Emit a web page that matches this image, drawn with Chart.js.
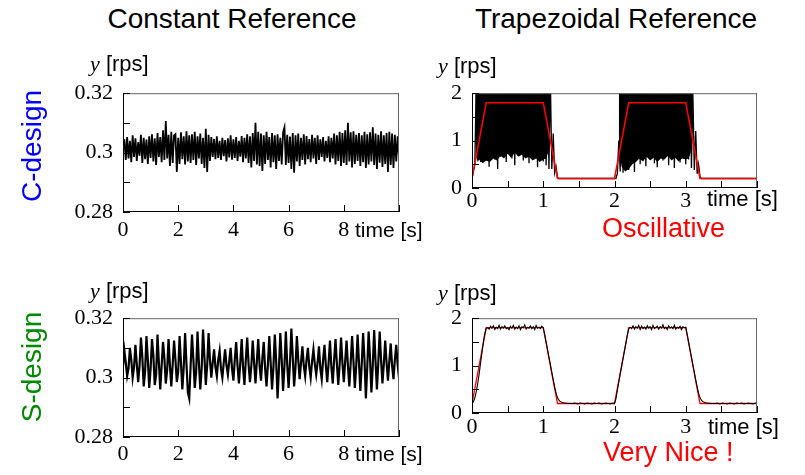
<!DOCTYPE html>
<html>
<head>
<meta charset="utf-8">
<script src="https://cdn.jsdelivr.net/npm/chart.js@4.4.1/dist/chart.umd.min.js"></script>
<style>
  body { margin: 0; background: #fff; }
  #page { position: relative; width: 805px; height: 475px; overflow: hidden; }
  canvas { position: absolute; }
  .t { position: absolute; white-space: nowrap; line-height: 1; font-family: 'Liberation Sans', Arial, sans-serif; color: #000; }
  .t i { font-family: 'Liberation Serif', serif; }
</style>
</head>
<body>
<div id="page">
  <canvas id="cA" width="380" height="175" style="left:40px;top:70px"></canvas>
  <canvas id="cB" width="385" height="145" style="left:420px;top:70px"></canvas>
  <canvas id="cC" width="380" height="175" style="left:40px;top:295px"></canvas>
  <canvas id="cD" width="385" height="145" style="left:420px;top:295px"></canvas>

  <div class="t" style="left:32px;top:5px;width:400px;text-align:center;font-size:28px">Constant Reference</div>
  <div class="t" style="left:416px;top:5px;width:400px;text-align:center;font-size:28px">Trapezoidal Reference</div>

  <div class="t" style="left:-48px;top:132px;width:160px;text-align:center;font-size:28px;color:#0000ff;transform:rotate(-90deg)">C-design</div>
  <div class="t" style="left:-48px;top:353px;width:160px;text-align:center;font-size:28px;color:#008a00;transform:rotate(-90deg)">S-design</div>

  <div class="t" style="left:90px;top:53px;font-size:22px"><i>y</i> [rps]</div>
  <div class="t" style="left:438px;top:55px;font-size:22px"><i>y</i> [rps]</div>
  <div class="t" style="left:90px;top:280px;font-size:22px"><i>y</i> [rps]</div>
  <div class="t" style="left:438px;top:282px;font-size:22px"><i>y</i> [rps]</div>

  <div class="t" style="left:355px;top:219px;font-size:21px">time [s]</div>
  <div class="t" style="left:707px;top:188px;font-size:22px">time [s]</div>
  <div class="t" style="left:355px;top:443px;font-size:21px">time [s]</div>
  <div class="t" style="left:708px;top:416px;font-size:22px">time [s]</div>

  <div class="t" style="left:602px;top:215px;font-size:27px;color:#ff0000">Oscillative</div>
  <div class="t" style="left:603px;top:439px;font-size:27px;color:#ff0000">Very Nice !</div>
</div>

<script>
'use strict';

// constant reference runs, sampled every 0.05 s
const constStep = 0.05;
const cDesignConst = [
  0.3010, 0.3045, 0.2975, 0.3052, 0.2980, 0.3040, 0.2968, 0.3058, 0.2985, 0.3048,
  0.2972, 0.3035, 0.2990, 0.3060, 0.2965, 0.3050, 0.2978, 0.3044, 0.2962, 0.3055,
  0.2982, 0.3062, 0.2970, 0.3048, 0.2958, 0.3066, 0.2985, 0.3052, 0.2968, 0.3075,
  0.2975, 0.3106, 0.2980, 0.3060, 0.2955, 0.3070, 0.2965, 0.3058, 0.3062, 0.2935,
  0.3050, 0.2962, 0.3068, 0.2978, 0.3055, 0.2960, 0.3072, 0.2970, 0.3058, 0.2965,
  0.3062, 0.2975, 0.3070, 0.2958, 0.3055, 0.2980, 0.3064, 0.2962, 0.3050, 0.2948,
  0.3080, 0.2935, 0.3060, 0.2972, 0.3052, 0.2985, 0.3046, 0.2978, 0.3055, 0.2982,
  0.3040, 0.2975, 0.3050, 0.2988, 0.3042, 0.2970, 0.3048, 0.2984, 0.3058, 0.2976,
  0.3045, 0.2982, 0.3052, 0.2972, 0.3040, 0.2986, 0.3056, 0.2968, 0.3050, 0.2980,
  0.3062, 0.2965, 0.3055, 0.2950, 0.3066, 0.2972, 0.3100, 0.2960, 0.3070, 0.2955,
  0.3064, 0.2938, 0.3058, 0.2962, 0.3070, 0.2975, 0.3052, 0.2950, 0.3066, 0.2968,
  0.3058, 0.2945, 0.3062, 0.2972, 0.3050, 0.2960, 0.3068, 0.3085, 0.2958, 0.3060,
  0.2965, 0.3054, 0.2945, 0.3066, 0.2932, 0.3058, 0.2970, 0.3064, 0.2955, 0.3050,
  0.2975, 0.3062, 0.2960, 0.3056, 0.2978, 0.3046, 0.2968, 0.3060, 0.2980, 0.3050,
  0.2962, 0.3058, 0.2975, 0.3045, 0.2985, 0.3052, 0.2970, 0.3040, 0.2982, 0.3055,
  0.2968, 0.3050, 0.2980, 0.3064, 0.2960, 0.3058, 0.2972, 0.3070, 0.2955, 0.3066,
  0.2965, 0.3075, 0.2958, 0.3100, 0.2970, 0.3068, 0.2950, 0.3072, 0.2962, 0.3060,
  0.2972, 0.3066, 0.2955, 0.3058, 0.2968, 0.3070, 0.2948, 0.3062, 0.2960, 0.3068,
  0.2970, 0.3085, 0.2958, 0.3064, 0.2945, 0.3060, 0.2966, 0.3072, 0.2952, 0.3058,
  0.2962, 0.3066, 0.2935, 0.3070, 0.2958, 0.3064, 0.2948, 0.3060, 0.2970, 0.3055,
  0.2985
];
const sDesignConst = [
  0.3040, 0.3090, 0.3050, 0.3005, 0.3030, 0.3100, 0.3060, 0.3000, 0.3035, 0.3110,
  0.3045, 0.2985, 0.3040, 0.3135, 0.3070, 0.2970, 0.3020, 0.3140, 0.3060, 0.2965,
  0.3030, 0.3130, 0.3075, 0.2975, 0.3010, 0.3145, 0.3050, 0.2960, 0.3040, 0.3120,
  0.3065, 0.2980, 0.3025, 0.3130, 0.3040, 0.2970, 0.3045, 0.3125, 0.3060, 0.2985,
  0.3020, 0.3140, 0.3050, 0.2960, 0.3035, 0.3150, 0.3045, 0.2950, 0.2930, 0.3040,
  0.3145, 0.3060, 0.2965, 0.3020, 0.3155, 0.3050, 0.2960, 0.3030, 0.3162, 0.3070,
  0.2975, 0.3040, 0.3150, 0.3060, 0.3000, 0.3050, 0.3095, 0.3035, 0.3005, 0.3060,
  0.3090, 0.3030, 0.3000, 0.3050, 0.3095, 0.3040, 0.3010, 0.3055, 0.3100, 0.3030,
  0.2990, 0.3060, 0.3120, 0.3040, 0.2980, 0.3050, 0.3130, 0.3035, 0.2975, 0.3060,
  0.3135, 0.3045, 0.2985, 0.3040, 0.3125, 0.3050, 0.2980, 0.3055, 0.3130, 0.3040,
  0.2990, 0.3065, 0.3120, 0.3030, 0.2970, 0.3045, 0.3140, 0.3050, 0.2960, 0.3035,
  0.3145, 0.3055, 0.2930, 0.3030, 0.3150, 0.3060, 0.2955, 0.3040, 0.3155, 0.3045,
  0.2965, 0.3050, 0.3165, 0.3070, 0.2970, 0.3035, 0.3140, 0.3060, 0.2995, 0.3050,
  0.3105, 0.3040, 0.3005, 0.3060, 0.3100, 0.3035, 0.3000, 0.3055, 0.3095, 0.3045,
  0.3010, 0.3050, 0.3105, 0.3030, 0.2995, 0.3060, 0.3110, 0.3040, 0.2985, 0.3050,
  0.3125, 0.3035, 0.2980, 0.3060, 0.3130, 0.3045, 0.2975, 0.3045, 0.3135, 0.3050,
  0.2985, 0.3055, 0.3125, 0.3040, 0.2970, 0.3050, 0.3140, 0.3055, 0.2965, 0.3040,
  0.3145, 0.3050, 0.2955, 0.3045, 0.3150, 0.3060, 0.2930, 0.3035, 0.3155, 0.3065,
  0.2950, 0.3040, 0.3160, 0.3055, 0.2960, 0.3050, 0.3155, 0.3060, 0.2980, 0.3045,
  0.3125, 0.3050, 0.2990, 0.3055, 0.3115, 0.3040, 0.2995, 0.3060, 0.3110, 0.3045,
  0.3000
];

// trapezoidal reference runs, sampled every 0.02 s
const trapStep = 0.02;
const cDesignTrap = [
  0.20, 0.36, 0.50, 2.30, 0.62, 2.40, 0.55, 2.35, 0.68, 2.40,
  0.58, 2.30, 0.45, 2.40, 0.72, 2.35, 0.60, 2.40, 0.40, 2.30,
  0.66, 2.40, 0.78, 2.35, 0.55, 2.40, 0.85, 2.30, 0.62, 2.40,
  0.48, 2.35, 0.74, 2.40, 0.90, 2.30, 0.58, 2.40, 0.70, 2.35,
  0.52, 2.40, 0.80, 2.30, 0.64, 2.40, 0.44, 2.35, 0.70, 2.40,
  0.56, 2.30, 0.48, 2.40, 0.40, 2.30, 0.40, 1.15, 0.32, 0.45,
  0.22, 0.20, 0.20, 0.20, 0.20, 0.20, 0.20, 0.20, 0.20, 0.20,
  0.20, 0.20, 0.20, 0.20, 0.20, 0.20, 0.20, 0.20, 0.20, 0.20,
  0.20, 0.20, 0.20, 0.20, 0.20, 0.20, 0.20, 0.20, 0.20, 0.20,
  0.20, 0.20, 0.20, 0.20, 0.20, 0.20, 0.20, 0.20, 0.20, 0.20,
  0.20, 0.20, 0.30, 1.00, 0.35, 2.10, 0.32, 2.40, 0.45, 2.35,
  0.38, 2.40, 0.55, 2.30, 0.34, 2.40, 0.62, 2.35, 0.50, 2.40,
  0.72, 2.30, 0.46, 2.40, 0.66, 2.35, 0.85, 2.40, 0.52, 2.30,
  0.44, 2.40, 0.70, 2.35, 0.58, 2.40, 0.92, 2.30, 0.48, 2.40,
  0.66, 2.35, 0.42, 2.40, 0.76, 2.30, 0.54, 2.40, 0.68, 2.35,
  0.50, 2.40, 0.60, 2.30, 0.42, 2.00, 0.38, 1.20, 0.30, 0.50,
  0.24, 0.20, 0.20, 0.20, 0.20, 0.20, 0.20, 0.20, 0.20, 0.20,
  0.20, 0.20, 0.20, 0.20, 0.20, 0.20, 0.20, 0.20, 0.20, 0.20,
  0.20, 0.20, 0.20, 0.20, 0.20, 0.20, 0.20, 0.20, 0.20, 0.20,
  0.20, 0.20, 0.20, 0.20, 0.20, 0.20, 0.20, 0.20, 0.20, 0.20,
  0.20
];
// lower edge of the solid black mass in the oscillating C-design run
const coreTimes1 = [0.05, 0.08, 0.1, 0.15, 0.2, 0.25, 0.3, 0.35, 0.4, 0.45, 0.5, 0.55,
                    0.6, 0.65, 0.7, 0.75, 0.8, 0.85, 0.9, 0.95, 1.0, 1.04, 1.07, 1.09, 1.1];
const coreLow1   = [0.70, 0.55, 0.60, 0.52, 0.58, 0.55, 0.62, 0.58, 0.68, 0.62, 0.72, 0.64,
                    0.75, 0.66, 0.70, 0.62, 0.66, 0.58, 0.62, 0.55, 0.60, 0.62, 0.75, 1.40, 1.95];
const coreTimes2 = [2.06, 2.1, 2.15, 2.2, 2.25, 2.3, 2.35, 2.4, 2.45, 2.5, 2.55, 2.6,
                    2.65, 2.7, 2.75, 2.8, 2.85, 2.9, 2.95, 3.0, 3.04, 3.07, 3.09, 3.1];
const coreLow2   = [0.90, 0.45, 0.35, 0.40, 0.50, 0.55, 0.62, 0.56, 0.66, 0.58, 0.64, 0.55,
                    0.62, 0.60, 0.68, 0.58, 0.64, 0.56, 0.62, 0.60, 0.62, 0.75, 1.40, 1.95];

const sDesignTrap = [
  0.20, 0.24, 0.32, 0.45, 0.62, 0.82, 1.05, 1.28, 1.50, 1.68,
  1.79, 1.80, 1.77, 1.83, 1.79, 1.84, 1.76, 1.81, 1.78, 1.85,
  1.77, 1.82, 1.79, 1.84, 1.78, 1.80, 1.76, 1.83, 1.79, 1.85,
  1.77, 1.81, 1.78, 1.84, 1.76, 1.82, 1.80, 1.86, 1.77, 1.81,
  1.79, 1.84, 1.78, 1.82, 1.76, 1.85, 1.79, 1.81, 1.78, 1.83,
  1.80, 1.66, 1.50, 1.34, 1.18, 1.02, 0.86, 0.70, 0.55, 0.42,
  0.32, 0.27, 0.24, 0.225, 0.215, 0.21, 0.205, 0.205, 0.20, 0.20,
  0.20, 0.20, 0.21, 0.20, 0.19, 0.20, 0.21, 0.20, 0.20, 0.19,
  0.20, 0.21, 0.20, 0.20, 0.19, 0.20, 0.21, 0.20, 0.20, 0.21,
  0.20, 0.19, 0.20, 0.20, 0.21, 0.20, 0.20, 0.19, 0.20, 0.21,
  0.20, 0.30, 0.48, 0.65, 0.82, 0.98, 1.15, 1.31, 1.48, 1.64,
  1.78, 1.81, 1.78, 1.84, 1.77, 1.82, 1.79, 1.85, 1.76, 1.83,
  1.78, 1.81, 1.77, 1.84, 1.79, 1.82, 1.76, 1.85, 1.78, 1.80,
  1.83, 1.77, 1.82, 1.79, 1.86, 1.78, 1.81, 1.76, 1.84, 1.79,
  1.82, 1.78, 1.85, 1.77, 1.81, 1.79, 1.83, 1.76, 1.82, 1.80,
  1.81, 1.66, 1.50, 1.34, 1.18, 1.02, 0.86, 0.70, 0.55, 0.42,
  0.32, 0.27, 0.24, 0.225, 0.215, 0.21, 0.205, 0.205, 0.20, 0.20,
  0.20, 0.20, 0.21, 0.20, 0.19, 0.20, 0.21, 0.20, 0.20, 0.19,
  0.20, 0.21, 0.20, 0.20, 0.19, 0.20, 0.21, 0.20, 0.20, 0.21,
  0.20, 0.19, 0.20, 0.20, 0.21, 0.20, 0.20, 0.19, 0.20, 0.21,
  0.20
];

// trapezoid reference (red) corner points
const refTimes  = [0, 0.2, 1.0, 1.2, 2.0, 2.2, 3.0, 3.2, 4.0];
const refValues = [0.2, 1.8, 1.8, 0.2, 0.2, 1.8, 1.8, 0.2, 0.2];

// labelled ticks
const constYLabels = [0.28, 0.3, 0.32];
const constXLabels = [0, 2, 4, 6, 8];
const trapYLabels = [0, 1, 2];
const trapXLabels = [0, 1, 2, 3];

const tickFont = { family: "'Liberation Serif', 'Times New Roman', serif", size: 22 };

function sampled(vals, dt) {
  return vals.map((v, i) => ({ x: i * dt, y: v }));
}

function pairs(xs, ys) {
  return xs.map((t, i) => ({ x: t, y: ys[i] }));
}

function labeler(list) {
  return v => {
    const hit = list.find(l => Math.abs(l - v) < 1e-6);
    return hit === undefined ? '' : String(hit);
  };
}

// box round the plot area + inward tick marks
const frame = {
  id: 'frame',
  afterDraw(chart) {
    const { ctx, chartArea: a, scales } = chart;
    ctx.save();
    ctx.lineWidth = 1;
    ctx.strokeStyle = '#666';
    ctx.beginPath();
    ctx.moveTo(a.left, a.top + 0.5);
    ctx.lineTo(a.right, a.top + 0.5);
    ctx.moveTo(a.right - 0.5, a.top);
    ctx.lineTo(a.right - 0.5, a.bottom);
    ctx.stroke();
    ctx.strokeStyle = '#000';
    ctx.beginPath();
    ctx.moveTo(a.left + 0.5, a.top);
    ctx.lineTo(a.left + 0.5, a.bottom);
    ctx.moveTo(a.left, a.bottom - 0.5);
    ctx.lineTo(a.right, a.bottom - 0.5);
    scales.x.ticks.forEach(t => {
      const p = Math.round(scales.x.getPixelForValue(t.value)) + 0.5;
      ctx.moveTo(p, a.bottom);
      ctx.lineTo(p, a.bottom - 7);
    });
    scales.y.ticks.forEach(t => {
      const p = Math.round(scales.y.getPixelForValue(t.value)) + 0.5;
      ctx.moveTo(a.left, p);
      ctx.lineTo(a.left + 7, p);
    });
    ctx.stroke();
    ctx.restore();
  }
};

function makePanel(id, c) {
  return new Chart(document.getElementById(id), {
    type: 'line',
    data: { datasets: c.datasets },
    options: {
      responsive: false,
      animation: false,
      events: [],
      layout: { padding: { top: c.padTop, right: c.padRight, left: 0, bottom: 0 } },
      elements: { point: { radius: 0 }, line: { tension: 0 } },
      plugins: { legend: { display: false }, tooltip: { enabled: false } },
      scales: {
        x: {
          type: 'linear', min: c.xMin, max: c.xMax,
          grid: { display: false, drawTicks: false },
          border: { display: false },
          afterFit: s => { s.height = c.xAxisH; },
          ticks: { stepSize: c.xStep, autoSkip: false, maxRotation: 0, padding: c.xPad,
                   color: '#000', font: tickFont, callback: labeler(c.xLabels) }
        },
        y: {
          type: 'linear', min: c.yMin, max: c.yMax,
          grid: { display: false, drawTicks: false },
          border: { display: false },
          afterFit: s => { s.width = c.yAxisW; },
          ticks: { stepSize: c.yStep, autoSkip: false, padding: 10,
                   color: '#000', font: tickFont, callback: labeler(c.yLabels) }
        }
      }
    },
    plugins: [frame]
  });
}

makePanel('cA', {
  padTop: 13, padRight: 21, xAxisH: 33, yAxisW: 83, xPad: 5,
  xMin: 0, xMax: 10, xStep: 2, xLabels: constXLabels,
  yMin: 0.28, yMax: 0.32, yStep: 0.01, yLabels: constYLabels,
  datasets: [
    { data: sampled(cDesignConst, constStep), borderColor: '#000', borderWidth: 1.8 }
  ]
});

makePanel('cC', {
  padTop: 14, padRight: 21, xAxisH: 33, yAxisW: 83, xPad: 4,
  xMin: 0, xMax: 10, xStep: 2, xLabels: constXLabels,
  yMin: 0.28, yMax: 0.32, yStep: 0.01, yLabels: constYLabels,
  datasets: [
    { data: sampled(sDesignConst, constStep), borderColor: '#000', borderWidth: 2.2 }
  ]
});

makePanel('cB', {
  padTop: 16, padRight: 48, xAxisH: 27, yAxisW: 52, xPad: 0,
  xMin: 0, xMax: 4, xStep: 0.5, xLabels: trapXLabels,
  yMin: 0, yMax: 2, yStep: 0.5, yLabels: trapYLabels,
  datasets: [
    { data: pairs(refTimes, refValues), borderColor: '#ff0000', borderWidth: 1.6, order: 0 },
    { data: pairs(coreTimes1, coreLow1), borderWidth: 0, fill: 'end', backgroundColor: '#000', order: 1 },
    { data: pairs(coreTimes2, coreLow2), borderWidth: 0, fill: 'end', backgroundColor: '#000', order: 1 },
    { data: sampled(cDesignTrap, trapStep), borderColor: '#000', borderWidth: 1.3, order: 2 }
  ]
});

makePanel('cD', {
  padTop: 17, padRight: 48, xAxisH: 27, yAxisW: 52, xPad: 1,
  xMin: 0, xMax: 4, xStep: 0.5, xLabels: trapXLabels,
  yMin: 0, yMax: 2, yStep: 0.5, yLabels: trapYLabels,
  datasets: [
    { data: pairs(refTimes, refValues), borderColor: '#ff0000', borderWidth: 1.3, order: 1 },
    { data: sampled(sDesignTrap, trapStep), borderColor: '#000', borderWidth: 1.1, order: 0 }
  ]
});
</script>
</body>
</html>
